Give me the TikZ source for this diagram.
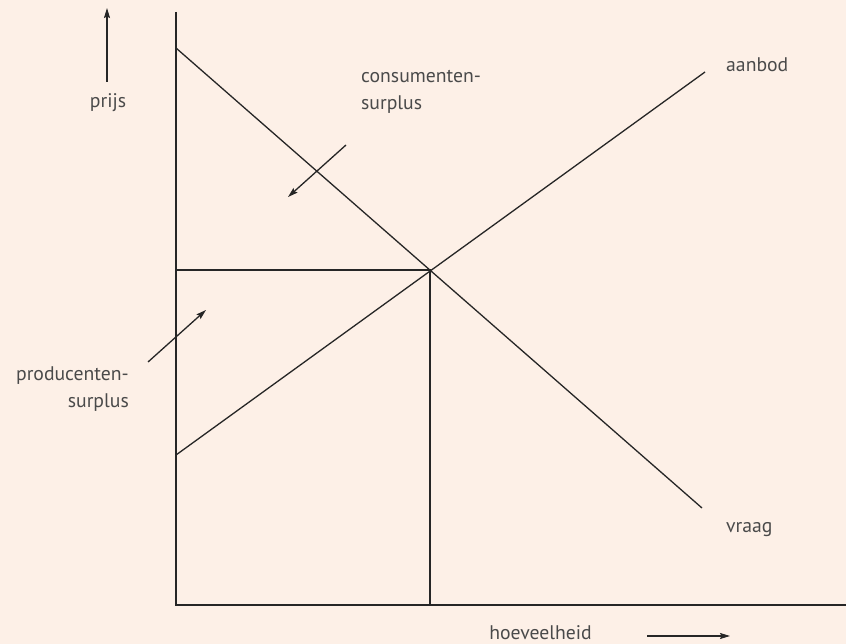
\documentclass[tikz,border=0pt]{standalone}
\usepackage{fontspec}
\setmainfont{PT Sans}
\usetikzlibrary{arrows.meta}
\definecolor{bg}{HTML}{FDF0E7}
\definecolor{txt}{HTML}{4A4A4A}
\begin{document}
\begin{tikzpicture}[x=1pt,y=-1pt,
  ln/.style={line width=1.3pt,black!85},
  arr/.style={ln,-{Stealth[length=10pt,width=6pt,inset=1.5pt]}},
  lbl/.style={text=txt,font=\fontsize{19.7}{27}\selectfont,inner sep=0pt}]
\fill[bg] (0,0) rectangle (846,644);
\useasboundingbox (0,0) rectangle (846,644);
% axes
\coordinate (O) at (176,605);
\coordinate (Ytop) at (176,12);
\coordinate (Xend) at (846,605);
\draw[ln] (Ytop) -- (O) -- (Xend);
% curves
\coordinate (Dstart) at (176,48);
\coordinate (Dend) at (702,508);
\coordinate (Sstart) at (176,455);
\coordinate (Send) at (705,72);
\coordinate (E) at (430,270);
\coordinate (Ey) at (176,270);
\coordinate (Ex) at (430,605);
\draw[ln] (Dstart) -- (Dend);
\draw[ln] (Sstart) -- (Send);
\draw[ln] (Ey) -- (E) -- (Ex);
% labels
\node[lbl,anchor=base west] (aanbod) at (726,72) {aanbod};
\node[lbl,anchor=base west] (vraag) at (726,532) {vraag};
\node[lbl,anchor=base] (prijs) at (108,108) {prijs};
\coordinate (P1) at (107,82);
\coordinate (P2) at (107,8);
\draw[arr] (P1) -- (P2);
\node[lbl,anchor=base west] (cs1) at (361,83) {consumenten-};
\node[lbl,anchor=base west] (cs2) at (361,110) {surplus};
\coordinate (C1) at (346,145);
\coordinate (C2) at (288,197);
\draw[arr] (C1) -- (C2);
\node[lbl,anchor=base east] (ps1) at (129,380) {producenten-};
\node[lbl,anchor=base east] (ps2) at (129,407) {surplus};
\coordinate (Q1) at (148,362);
\coordinate (Q2) at (206,310);
\draw[arr] (Q1) -- (Q2);
\node[lbl,anchor=base east] (hv) at (592,639) {hoeveelheid};
\coordinate (H1) at (647,636);
\coordinate (H2) at (730,636);
\draw[arr] (H1) -- (H2);
\end{tikzpicture}
\end{document}
